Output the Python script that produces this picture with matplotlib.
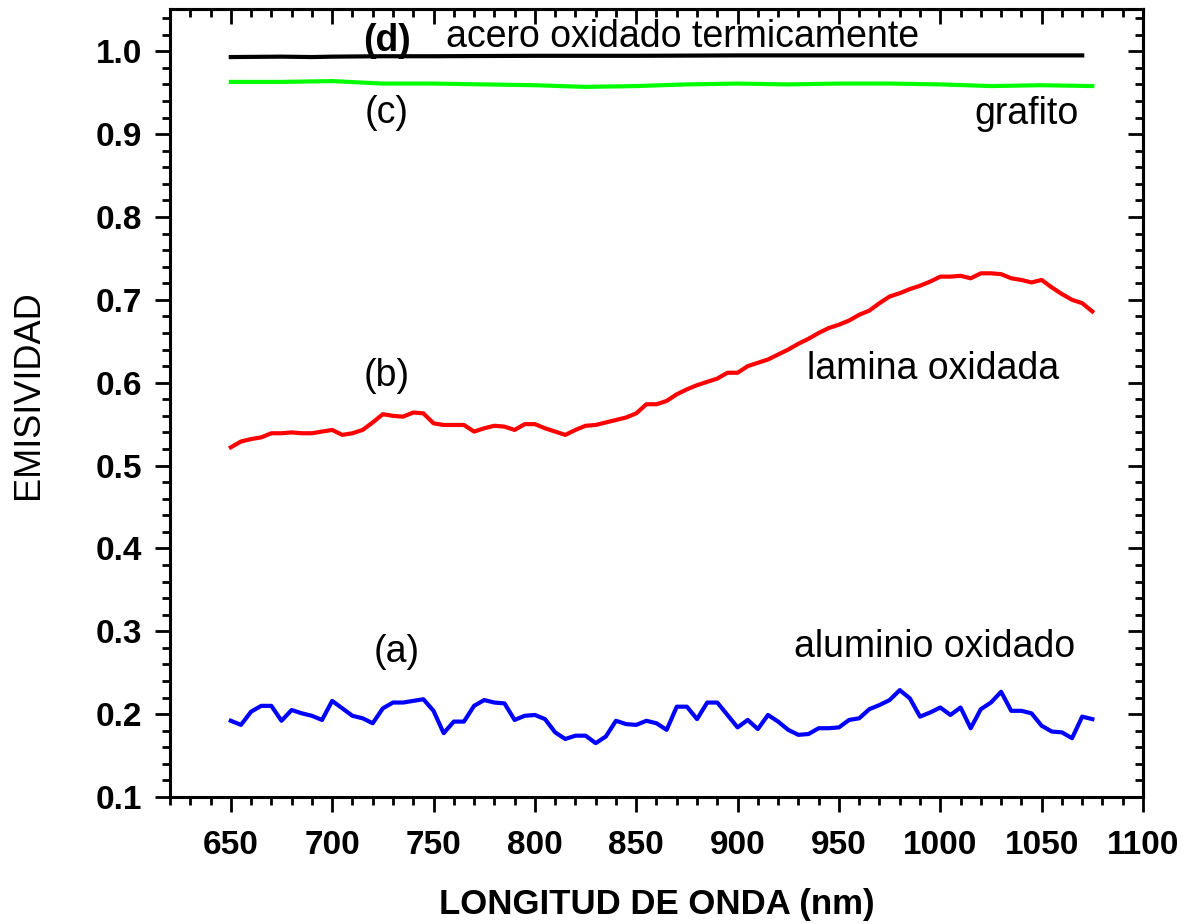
import matplotlib
matplotlib.use("Agg")
import matplotlib.pyplot as plt
from matplotlib.ticker import MultipleLocator, FormatStrFormatter

plt.rcParams['font.family'] = ['Liberation Sans', 'DejaVu Sans']

# ---- data ----
wavelength = [650, 655, 660, 665, 670, 675, 680, 685, 690, 695,
              700, 705, 710, 715, 720, 725, 730, 735, 740, 745,
              750, 755, 760, 765, 770, 775, 780, 785, 790, 795,
              800, 805, 810, 815, 820, 825, 830, 835, 840, 845,
              850, 855, 860, 865, 870, 875, 880, 885, 890, 895,
              900, 905, 910, 915, 920, 925, 930, 935, 940, 945,
              950, 955, 960, 965, 970, 975, 980, 985, 990, 995,
              1000, 1005, 1010, 1015, 1020, 1025, 1030, 1035, 1040, 1045,
              1050, 1055, 1060, 1065, 1070, 1075]

aluminio = [0.192, 0.187, 0.203, 0.210, 0.210, 0.192, 0.205, 0.201, 0.198, 0.193,
            0.216, 0.207, 0.198, 0.195, 0.189, 0.207, 0.214, 0.214, 0.216, 0.218,
            0.204, 0.177, 0.191, 0.191, 0.210, 0.217, 0.214, 0.213, 0.193, 0.198,
            0.199, 0.194, 0.178, 0.170, 0.174, 0.174, 0.165, 0.173, 0.192, 0.188,
            0.187, 0.192, 0.189, 0.181, 0.209, 0.209, 0.194, 0.214, 0.214, 0.199,
            0.184, 0.193, 0.182, 0.199, 0.191, 0.181, 0.175, 0.176, 0.183, 0.183,
            0.184, 0.193, 0.195, 0.206, 0.211, 0.217, 0.229, 0.219, 0.197, 0.202,
            0.208, 0.199, 0.208, 0.183, 0.206, 0.214, 0.227, 0.204, 0.204, 0.201,
            0.186, 0.179, 0.178, 0.171, 0.197, 0.194]

lamina = [0.522, 0.529, 0.532, 0.534, 0.539, 0.539, 0.540, 0.539, 0.539, 0.541,
          0.543, 0.537, 0.539, 0.543, 0.552, 0.562, 0.560, 0.559, 0.564, 0.563,
          0.551, 0.549, 0.549, 0.549, 0.541, 0.545, 0.548, 0.547, 0.543, 0.550,
          0.550, 0.545, 0.541, 0.537, 0.543, 0.548, 0.549, 0.552, 0.555, 0.558,
          0.563, 0.574, 0.574, 0.578, 0.586, 0.592, 0.597, 0.601, 0.605, 0.612,
          0.612, 0.620, 0.624, 0.628, 0.634, 0.640, 0.647, 0.653, 0.660, 0.666,
          0.670, 0.675, 0.682, 0.687, 0.696, 0.704, 0.708, 0.713, 0.717, 0.722,
          0.728, 0.728, 0.729, 0.726, 0.732, 0.732, 0.731, 0.726, 0.724, 0.721,
          0.724, 0.715, 0.707, 0.700, 0.696, 0.686]

wl_grafito = [650, 675, 700, 725, 750, 775, 800, 825, 850, 875,
              900, 925, 950, 975, 1000, 1025, 1050, 1075]
grafito = [0.963, 0.963, 0.964, 0.961, 0.961, 0.960, 0.959, 0.957, 0.958, 0.960,
           0.961, 0.960, 0.961, 0.961, 0.960, 0.958, 0.959, 0.958]

wl_acero = [650, 675, 690, 700, 725, 750, 800, 850, 900, 950, 1000, 1050, 1070]
acero = [0.993, 0.9935, 0.993, 0.9935, 0.994, 0.994, 0.9945, 0.9945, 0.995,
         0.995, 0.995, 0.995, 0.995]

# ---- figure ----
W, H = 1188, 924
fig = plt.figure(figsize=(W / 100, H / 100), dpi=100)
ax = fig.add_axes([170 / W, 1 - 797 / H, (1143 - 170) / W, (797 - 9) / H])

lw = 3.0
ax.plot(wavelength, aluminio, color=(0, 0, 1), lw=lw)
ax.plot(wavelength, lamina, color=(1, 0, 0), lw=lw)
ax.plot(wl_grafito, grafito, color=(0, 1, 0), lw=lw)
ax.plot(wl_acero, acero, color='black', lw=lw)

ax.set_xlim(620, 1100)
ax.set_ylim(0.1, 1.051)

ax.xaxis.set_major_locator(MultipleLocator(50))
ax.xaxis.set_minor_locator(MultipleLocator(10))
ax.yaxis.set_major_locator(MultipleLocator(0.1))
ax.yaxis.set_minor_locator(MultipleLocator(0.02))
ax.yaxis.set_major_formatter(FormatStrFormatter('%.1f'))

ax.set_xticks([650, 700, 750, 800, 850, 900, 950, 1000, 1050, 1100])

for s in ax.spines.values():
    s.set_linewidth(2.2)

ax.tick_params(which='major', direction='out', length=11, width=2.0,
               labelsize=24, pad=9)
ax.tick_params(axis='x', which='major', pad=13)
ax.tick_params(which='minor', direction='out', length=5.5, width=2.0)
for lab in ax.get_xticklabels() + ax.get_yticklabels():
    lab.set_fontweight('bold')

# mirrored inward ticks on top and right
secx = ax.secondary_xaxis('top')
secx.xaxis.set_major_locator(MultipleLocator(50))
secx.xaxis.set_minor_locator(MultipleLocator(10))
secx.tick_params(which='major', direction='in', length=11, width=2.0, labeltop=False)
secx.tick_params(which='minor', direction='in', length=5.5, width=2.0)
secx.spines['top'].set_linewidth(2.2)

secy = ax.secondary_yaxis('right')
secy.yaxis.set_major_locator(MultipleLocator(0.1))
secy.yaxis.set_minor_locator(MultipleLocator(0.02))
secy.tick_params(which='major', direction='in', length=11, width=2.0, labelright=False)
secy.tick_params(which='minor', direction='in', length=5.5, width=2.0)
secy.spines['right'].set_linewidth(2.2)

ax.set_xlabel('LONGITUD DE ONDA (nm)', fontsize=25, fontweight='bold')
ax.set_ylabel('EMISIVIDAD', fontsize=26)
ax.xaxis.set_label_coords(0.5005, -0.137)
ax.xaxis.label.set_verticalalignment('center')
ax.yaxis.set_label_coords(-0.145, 0.51)
ax.yaxis.label.set_verticalalignment('center')

fs = 27
ax.text(727, 1.000, '(d)', fontsize=fs, fontweight='bold', ha='center', va='baseline')
ax.text(756, 1.005, 'acero oxidado termicamente', fontsize=fs, ha='left', va='baseline')
ax.text(727, 0.913, '(c)', fontsize=fs, ha='center', va='baseline')
ax.text(1068, 0.912, 'grafito', fontsize=fs, ha='right', va='baseline')
ax.text(727, 0.596, '(b)', fontsize=fs, ha='center', va='baseline')
ax.text(934, 0.604, 'lamina oxidada', fontsize=fs, ha='left', va='baseline')
ax.text(732, 0.2635, '(a)', fontsize=fs, ha='center', va='baseline')
ax.text(928, 0.269, 'aluminio oxidado', fontsize=fs, ha='left', va='baseline')

fig.savefig('out.png', dpi=100)
